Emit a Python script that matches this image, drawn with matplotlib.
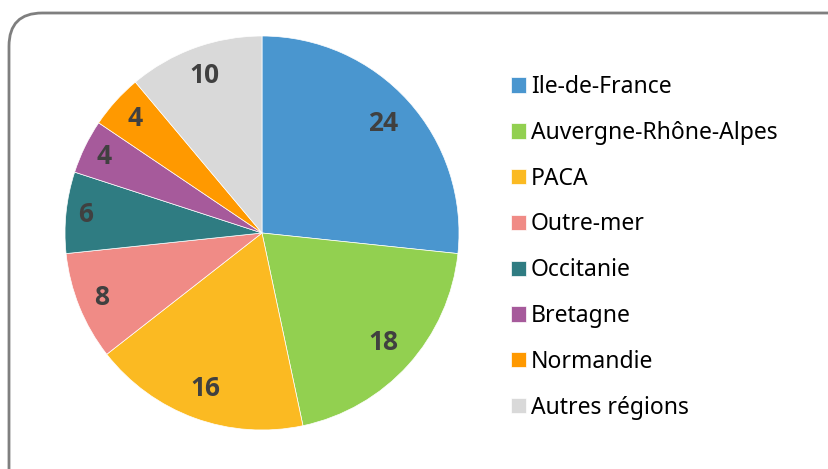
import numpy as np
import matplotlib.pyplot as plt
from matplotlib.patches import FancyBboxPatch

plt.rcParams['font.family'] = ['Noto Sans', 'DejaVu Sans']

regions = ['Ile-de-France', 'Auvergne-Rhône-Alpes', 'PACA', 'Outre-mer',
           'Occitanie', 'Bretagne', 'Normandie', 'Autres régions']
values = [24, 18, 16, 8, 6, 4, 4, 10]
colors = ['#4a96cf', '#92d050', '#fbba22', '#f08b86',
          '#2f7c82', '#a65a9b', '#ff9900', '#d9d9d9']
# how far out each value label sits (fraction of radius)
label_dist = [0.83, 0.83, 0.84, 0.88, 0.90, 0.89, 0.87, 0.85]

W, H = 829, 469
fig = plt.figure(figsize=(W / 100, H / 100), dpi=100)

# rounded frame, partly cut off at right and bottom
frame = FancyBboxPatch((9 / W, -40 / H), (W + 40) / W, (H + 40 - 13) / H,
                       boxstyle='round,pad=0,rounding_size=0.04',
                       transform=fig.transFigure, facecolor='white',
                       edgecolor='#7f7f7f', linewidth=2, mutation_aspect=W / H,
                       zorder=-10)
fig.patches.append(frame)

r = 197
cx, cy = 262, 469 - 233
ax = fig.add_axes([(cx - r) / W, (cy - r) / H, 2 * r / W, 2 * r / H])
ax.set_zorder(5)
wedges, texts = ax.pie(values, colors=colors, startangle=90, counterclock=False,
                       labels=[str(v) for v in values], labeldistance=0.84,
                       wedgeprops=dict(linewidth=0.5, edgecolor='white'),
                       textprops=dict(color='#404040', fontsize=19, fontweight='bold',
                                      family=['Open Sans', 'DejaVu Sans']))
for w, t, d in zip(wedges, texts, label_dist):
    ang = np.deg2rad((w.theta1 + w.theta2) / 2)
    t.set_position((d * np.cos(ang), d * np.sin(ang)))
    t.set_horizontalalignment('center')
    t.set_verticalalignment('center')
ax.set_xlim(-1, 1)
ax.set_ylim(-1, 1)
ax.set_aspect('equal')

leg = fig.legend(wedges, regions, loc='upper left', bbox_to_anchor=(502 / W, 1 - 66 / H),
                 frameon=False, fontsize=16.5, handlelength=0.65, handleheight=0.65,
                 handletextpad=0.22, labelspacing=0.95, borderaxespad=0)
leg.set_zorder(5)

fig.savefig('out.png', dpi=100)
